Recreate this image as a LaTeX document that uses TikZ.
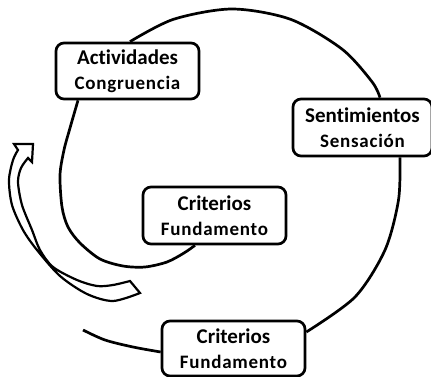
\documentclass[tikz,border=0pt]{standalone}
\usepackage{fontspec}
\setmainfont{Carlito}[Ligatures=CommonOff]
\newfontfamily\subfont{Carlito}[Ligatures=CommonOff,LetterSpace=4]
\usetikzlibrary{backgrounds}
\begin{document}
\begin{tikzpicture}[x=1pt,y=-1pt,
  box/.style={draw, line width=2.7pt, rounded corners=8pt, fill=white,
    minimum width=143pt, minimum height=56pt, inner sep=0pt, align=center,
    font=\subfont\bfseries\fontsize{19}{25.5}\selectfont},
  spiral/.style={line width=2.7pt},
  arrowshape/.style={line width=2.2pt, fill=white, line join=miter}]
\newcommand\ttl[1]{{\rmfamily\bfseries\fontsize{21}{25.5}\selectfont #1}}
\useasboundingbox (0,0) rectangle (431,377);
\node[box] (act) at (127.5,71) {\ttl{Actividades}\\Congruencia};
\node[box, minimum width=139pt, minimum height=57pt] (sent) at (362.5,127.5) {\ttl{Sentimientos}\\Sensación};
\node[box, minimum height=57pt] (mid) at (214.5,215.5) {\ttl{Criterios}\\Fundamento};
\node[box, minimum height=55pt] (bot) at (233.5,348.5) {\ttl{Criterios}\\Fundamento};
\coordinate (free) at (83,330);
\begin{scope}[on background layer]
\draw[spiral] plot[smooth] coordinates {([xshift=2.5pt]act.north) (173.5,19.3) (232,9) (290.5,19.3) (341.9,49) (372.1,81.9) ([xshift=17.5pt]sent.north)};
\draw[spiral] plot[smooth] coordinates {([xshift=37.5pt]sent.south) (398.5,200) (385,250) (355,297) ([yshift=16.5pt]bot.east)};
\draw[spiral] plot[smooth] coordinates {([yshift=-3.5pt]bot.west) (133,347) (105,340) (free)};
\draw[spiral] plot[smooth] coordinates {([xshift=-49.5pt]act.south) (70,128) (64,150) (60,175) (62,207) (68,227) (80,243) (100,259) (123,266) (145,267) (167,262) (184,253) ([xshift=-19.5pt]mid.south)};
\end{scope}
% curved block arrow
\draw[arrowshape] plot[smooth] coordinates {(130,281) (113,285) (97,286) (77,280) (53,267) (40,250) (32,230) (22,205) (18,182) (21,168) (28,158)}
  -- (32,162) -- (33,144) -- (14,144) -- (18,150)
  -- plot[smooth] coordinates {(18,150) (13,160) (9,180) (12,205) (23,230) (37,250) (60,276) (87,294) (113,301) (140,293)} -- cycle;
\end{tikzpicture}
\end{document}
